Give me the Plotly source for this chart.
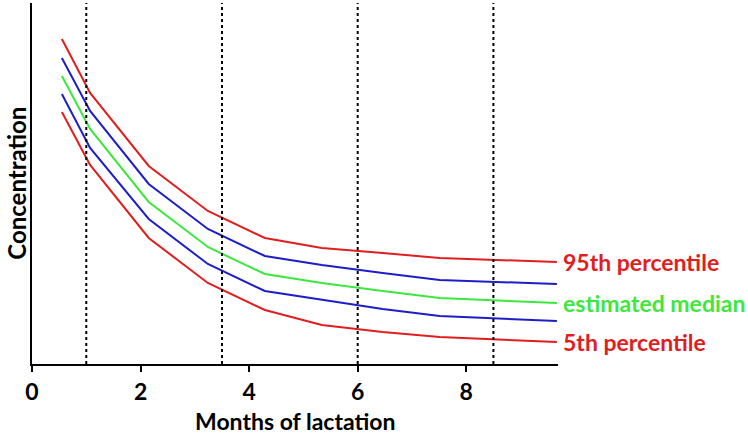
import plotly.graph_objects as go

# Data (arbitrary concentration units)
months = [0.55, 1.07, 2.15, 3.24, 4.29, 5.34, 6.46, 7.51, 9.67]
p95 = [325, 271, 198, 153, 126, 116, 111, 106, 102]
upper_blue = [306, 253, 180, 135, 108, 99, 91, 84, 80]
median = [288, 235, 162, 117, 90, 81, 73, 66, 61]
lower_blue = [270, 216, 145, 100, 73, 64, 55, 48, 43]
p5 = [252, 199, 126, 81, 54, 39, 32, 27, 22]

vlines = [1.0, 3.5, 6.0, 8.5]
xticks = [0, 2, 4, 6, 8]

RED = "#E01E1E"
BLUE = "#1E1EC8"
GREEN = "#3DE83D"
FONT = "Lato"

fig = go.Figure()
for ys, col in [(p95, RED), (upper_blue, BLUE), (median, GREEN), (lower_blue, BLUE), (p5, RED)]:
    fig.add_trace(go.Scatter(x=months, y=ys, mode="lines",
                             line=dict(color=col, width=2), showlegend=False,
                             hoverinfo="skip"))

for v in vlines:
    fig.add_shape(type="line", x0=v, x1=v, y0=0, y1=1, xref="x", yref="paper",
                  line=dict(color="black", width=2, dash="dot"))

labels = [("95th percentile", p95[-1], RED),
          ("estimated median", median[-1], GREEN),
          ("5th percentile", p5[-1], RED)]
for txt, yv, col in labels:
    fig.add_annotation(x=1.0, xref="paper", y=yv, yref="y", text=txt,
                       showarrow=False, xanchor="left", xshift=3,
                       font=dict(family=FONT, size=23, color=col, weight="bold"))

fig.add_annotation(x=-0.03, xref="paper", y=0.5, yref="paper",
                   text="Concentration", textangle=-90, showarrow=False,
                   xanchor="center", yanchor="middle",
                   font=dict(family=FONT, size=24, color="black", weight="bold"))
fig.add_annotation(x=0.5, xref="paper", y=-0.158, yref="paper",
                   text="Months of lactation", showarrow=False,
                   xanchor="center", yanchor="middle",
                   font=dict(family=FONT, size=23, color="black", weight="bold"))

fig.update_layout(
    width=748, height=436,
    margin=dict(l=32, r=190, t=3, b=72),
    plot_bgcolor="white", paper_bgcolor="white",
    xaxis=dict(range=[0, 9.69], tickvals=xticks, ticks="outside", ticklen=6,
               tickwidth=2, tickcolor="black", showline=True, linecolor="black",
               linewidth=2, showgrid=False, zeroline=False,
               tickfont=dict(family=FONT, size=23, color="black", weight="bold")),
    yaxis=dict(range=[0, 361], showticklabels=False, ticks="", showline=True,
               linecolor="black", linewidth=2, showgrid=False, zeroline=False),
)

fig.write_html("out.html", config={"displayModeBar": False},
               post_script="document.body.style.margin='0';")
